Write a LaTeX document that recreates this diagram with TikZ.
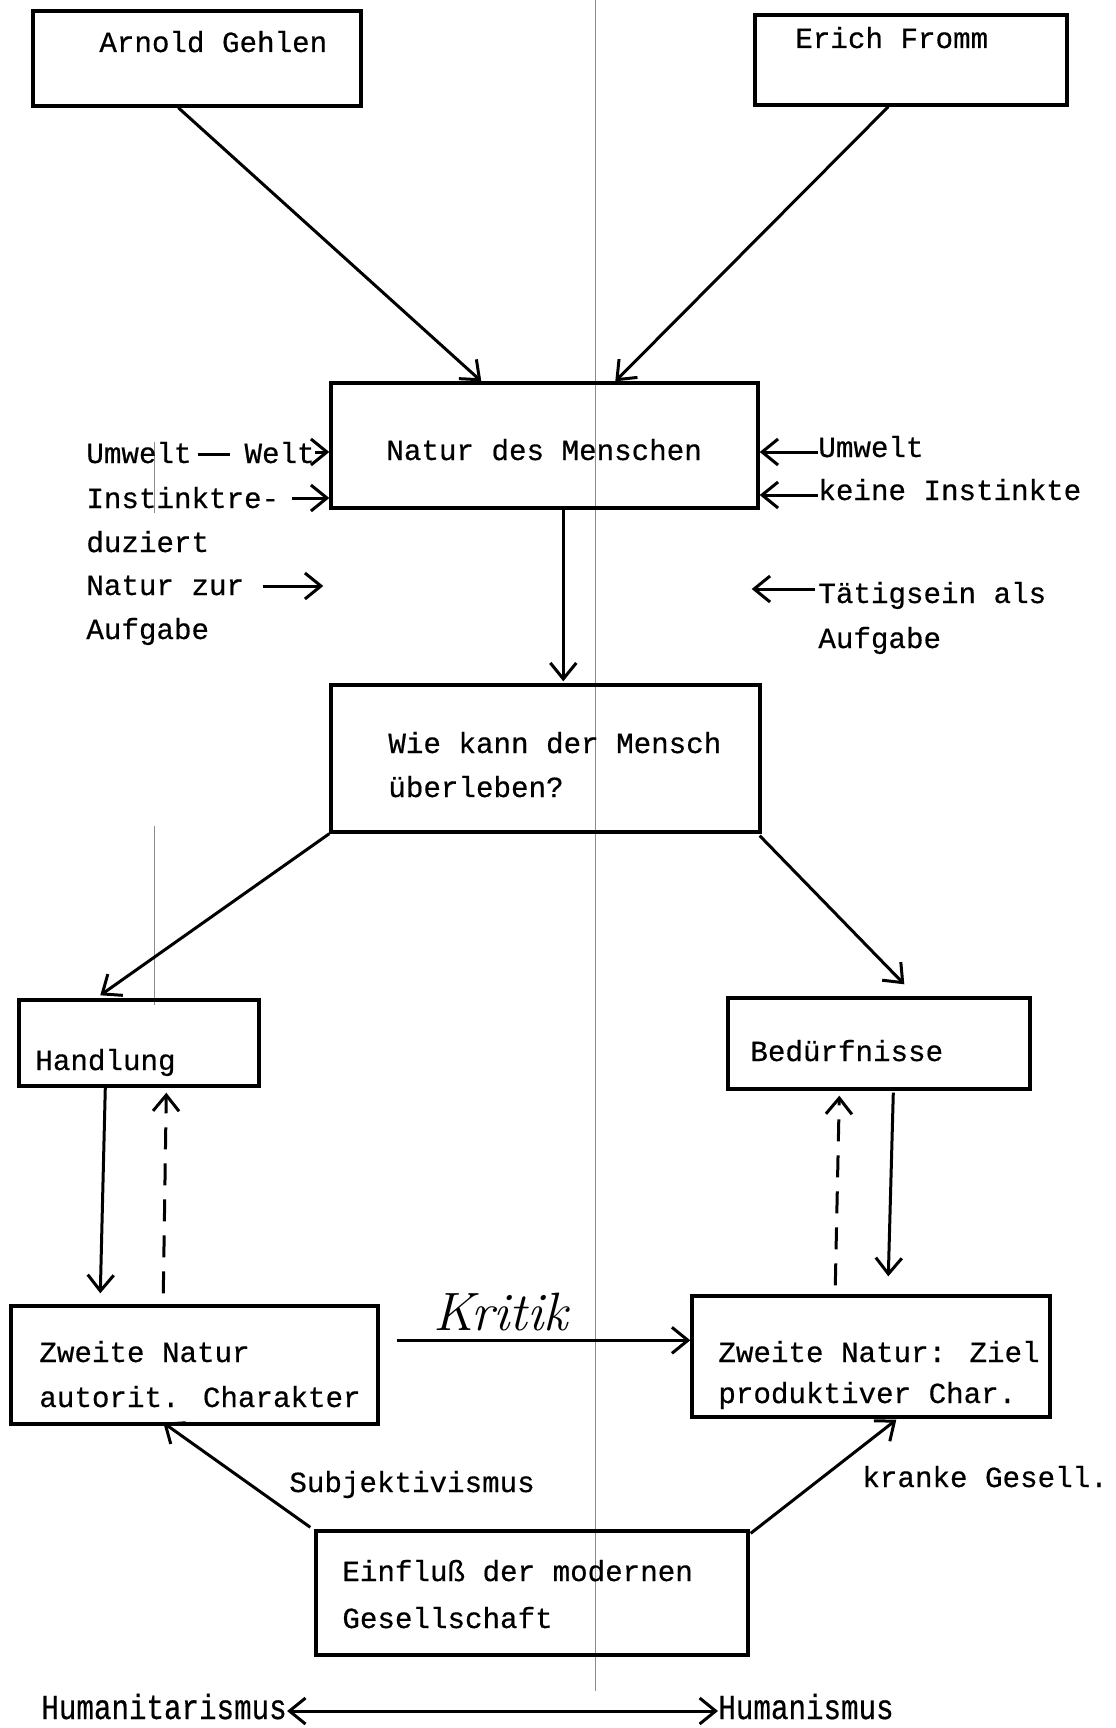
\documentclass[tikz,border=0pt]{standalone}
\usepackage{fontspec}
\newfontfamily\mono[FakeBold=0.5]{Liberation Mono}
\usepackage{graphicx}
\usetikzlibrary{arrows.meta,calc,fit}
\begin{document}
\begin{tikzpicture}[x=0.5pt,y=-0.5pt,
  box/.style={draw, line width=1.7pt, inner sep=0pt},
  txt/.style={anchor=base west, inner sep=0pt, font=\mono\fontsize{14.6}{18}\selectfont},
  arr/.style={line width=1.5pt, -{Straight Barb[length=8pt,width=13pt,line width=1.5pt]}},
  darr/.style={line width=1.5pt, {Straight Barb[length=8pt,width=13pt,line width=1.5pt]}-{Straight Barb[length=8pt,width=13pt,line width=1.5pt]}},
  dasharr/.style={arr, dash pattern=on 11pt off 7pt},
  fold/.style={draw=black!45, line width=0.5pt}]
\fill[white] (0,0) rectangle (1115,1728);
\useasboundingbox (0,0) rectangle (1115,1728);
% scan fold lines
\draw[fold] (595,0) -- (595,1691);
\draw[fold] (154,442) -- (154,513);
\draw[fold] (154,826) -- (154,1005);
% boxes
\node[box, fit={(33,11) (361,106)}] (gehlen) {};
\node[box, fit={(755,15) (1067,105)}] (fromm) {};
\node[box, fit={(331,383) (758,508)}] (natur) {};
\node[box, fit={(331,685) (760,832)}] (wie) {};
\node[box, fit={(19,1000) (259,1086)}] (handlung) {};
\node[box, fit={(728,998) (1030,1089)}] (bed) {};
\node[box, fit={(11,1306) (378,1424)}] (zweiteL) {};
\node[box, fit={(692,1296) (1050,1417)}] (zweiteR) {};
\node[box, fit={(316,1531) (748,1655)}] (einfluss) {};
% box texts
\node[txt] (tgehlen) at (99,52) {Arnold Gehlen};
\node[txt] (tfromm) at (795,48) {Erich Fromm};
\node[txt] (tnatur) at (386,460) {Natur des Menschen};
\node[txt] (twie1) at (388,753) {Wie kann der Mensch};
\node[txt] (twie2) at (388,797) {überleben?};
\node[txt] (thand) at (35,1070) {Handlung};
\node[txt] (tbed) at (750,1061) {Bedürfnisse};
\node[txt] (tzl1) at (39,1362) {Zweite Natur};
\node[txt] (tzl2) at (39,1407) {autorit. Charakter};
\node[txt] (tzr1) at (718,1362) {Zweite Natur: Ziel};
\node[txt] (tzr2) at (718,1403) {produktiver Char.};
\node[txt] (tein1) at (342,1581) {Einfluß der modernen};
\node[txt] (tein2) at (342,1628) {Gesellschaft};
% side labels left
\node[txt] (lumwelt) at (86,463) {Umwelt\hspace{3pt}\rule[3.5pt]{16pt}{1.4pt}\hspace{7.5pt}Welt};
\node[txt] (linst) at (86,508) {Instinktre-};
\node[txt] (lduz) at (86,552) {duziert};
\node[txt] (lnatur) at (86,595) {Natur zur};
\node[txt] (lauf) at (86,639) {Aufgabe};
% side labels right
\node[txt] (rumwelt) at (818,457) {Umwelt};
\node[txt] (rkeine) at (818,500) {keine Instinkte};
\node[txt] (rtat) at (818,603) {Tätigsein als};
\node[txt] (rauf) at (818,648) {Aufgabe};
% other labels
\node[anchor=base west, inner sep=0pt, font=\fontsize{27}{30}\selectfont\itshape] (kritik) at (433,1330) {Kritik};
\node[txt] (subj) at (289,1492) {Subjektivismus};
\node[txt] (krank) at (862,1487) {kranke Gesell.};
\node[txt] (hum1) at (41,1719) {\scalebox{1}[1.2]{Humanitarismus}};
\node[txt] (hum2) at (718,1719) {\scalebox{1}[1.2]{Humanismus}};
% main connectors
\draw[arr] ($(gehlen.south west)+(147,0)$) -- ($(natur.north west)+(152,0)$);
\draw[arr] ($(fromm.south west)+(135,0)$) -- ($(natur.north west)+(286,0)$);
\draw[arr] ($(natur.south west)+(234,0)$) -- ($(wie.north west)+(234,-2)$);
\draw[arr] (wie.south west) -- ($(handlung.north west)+(83,-3)$);
\draw[arr] ($(wie.south east)+(-2,2)$) -- ($(bed.north west)+(178,-12)$);
\draw[arr] ($(handlung.south west)+(88,0)$) -- ($(zweiteL.north west)+(91,-11)$);
\draw[dasharr] ($(zweiteL.north west)+(154,-11)$) -- ($(handlung.south west)+(149,5)$);
\draw[arr] ($(bed.south west)+(167,2)$) -- ($(zweiteR.north west)+(198,-18)$);
\draw[dasharr] ($(zweiteR.north west)+(145,-9)$) -- ($(bed.south west)+(113,5)$);
\draw[arr] ($(zweiteL.north east)+(17,36)$) -- ($(zweiteR.north west)+(0,46)$);
\draw[arr] ($(einfluss.north west)+(-4,-2)$) -- ($(zweiteL.south west)+(154,-3)$);
\draw[arr] ($(einfluss.north east)+(1,4)$) -- ($(zweiteR.south west)+(206,1)$);
\draw[darr] ($(hum1.base east)+(0,-8)$) -- ($(hum2.base west)+(0,-8)$);
% side label arrows
\draw[arr] ($(lumwelt.base east)+(0,-11)$) -- ($(lumwelt.base east -| natur.west)+(0,-11)$);
\draw[arr] ($(linst.base east)+(12,-10)$) -- ($(linst.base east -| natur.west)+(0,-10)$);
\draw[arr] ($(lnatur.base east)+(18,-9)$) -- ($(lnatur.base east -| natur.west)+(-6,-9)$);
\draw[arr] ($(rumwelt.base west)+(0,-5)$) -- ($(rumwelt.base west -| natur.east)+(0,-5)$);
\draw[arr] ($(rkeine.base west)+(0,-5)$) -- ($(rkeine.base west -| natur.east)+(0,-5)$);
\draw[arr] ($(rtat.base west)+(-3,-14)$) -- ($(rtat.base west -| natur.east)+(-8,-14)$);
\end{tikzpicture}
\end{document}
